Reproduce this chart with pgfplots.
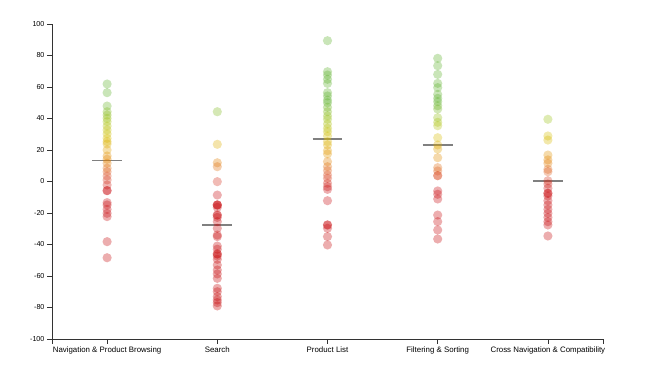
\documentclass[border=0pt]{standalone}
\usepackage{fontspec}
\setmainfont{Liberation Sans}
\usepackage{pgfplots}
\pgfplotsset{compat=1.18}
\begin{document}
\begin{tikzpicture}
\path[use as bounding box] (-52bp,-42bp) rectangle (616bp,339bp);
\begin{axis}[
  at={(0,0)}, anchor=south west,
  scale only axis, width=551bp, height=315bp,
  xmin=-0.5, xmax=4.5, ymin=-100, ymax=100,
  axis x line*=bottom, axis y line*=left,
  x axis line style={-}, y axis line style={-},
  axis line style={black!80, line width=0.8bp},
  xtick={0,1,2,3,4},
  xticklabels={Navigation \& Product Browsing, Search, Product List, Filtering \& Sorting, Cross Navigation \& Compatibility},
  extra x ticks={-0.5,4.5}, extra x tick labels={},
  ytick={-100,-80,...,100},
  tick align=outside, major tick length=4.5bp,
  tick style={black!80, line width=0.8bp},
  yticklabel style={font=\fontsize{7.2}{8}\selectfont, xshift=0.5bp},
  xticklabel style={font=\fontsize{7.9}{9}\selectfont, yshift=0.5bp},
  /pgf/number format/assume math mode=true,
  colormap={score}{
    rgb255(0cm)=(195,0,0)
    rgb255(95cm)=(200,10,15)
    rgb255(104cm)=(220,80,40)
    rgb255(112cm)=(225,125,0)
    rgb255(120cm)=(225,160,0)
    rgb255(128cm)=(215,190,0)
    rgb255(138cm)=(165,195,20)
    rgb255(150cm)=(90,175,40)
    rgb255(200cm)=(90,175,40)
  },
  point meta min=-100, point meta max=100,
  clip=false,
  unbounded coords=jump,
]
\addplot[scatter, only marks, mark=*, mark size=4.6bp, point meta=y,
  scatter/use mapped color={draw opacity=0, fill=mapped color, fill opacity=0.33}]
  table[x=x, y=y] {
x y
0 61.9
0 56.4
0 47.9
0 44.3
0 42.2
0 40.1
0 38.0
0 35.2
0 32.7
0 30.2
0 27.4
0 25.3
0 23.8
0 20.0
0 16.2
0 14.1
0 11.6
0 8.4
0 6.2
0 3.5
0 1.0
0 -2.2
0 -5.8
0 -5.8
0 -13.4
0 -14.9
0 -17.7
0 -20.2
0 -22.3
0 -38.2
0 -48.4
1 44.3
1 23.6
1 11.9
1 9.4
1 -0.1
1 -8.6
1 -14.9
1 -14.9
1 -14.9
1 -16.4
1 -21.3
1 -21.3
1 -22.8
1 -25.5
1 -29.7
1 -34.0
1 -35.0
1 -41.0
1 -43.0
1 -46.0
1 -46.0
1 -47.3
1 -49.4
1 -53.0
1 -56.2
1 -58.7
1 -61.5
1 -67.8
1 -70.0
1 -73.1
1 -75.2
1 -76.9
1 -79.0
2 89.4
2 69.7
2 67.6
2 64.9
2 62.3
2 56.4
2 54.3
2 51.7
2 50.0
2 47.1
2 44.3
2 41.6
2 39.5
2 36.5
2 33.8
2 31.6
2 28.9
2 25.3
2 23.2
2 19.6
2 17.5
2 12.6
2 9.4
2 6.9
2 4.1
2 2.0
2 -1.1
2 -3.3
2 -5.0
2 -12.2
2 -27.6
2 -27.6
2 -29.7
2 -35.0
2 -40.3
3 78.2
3 73.5
3 68.0
3 62.3
3 59.6
3 55.3
3 52.8
3 50.7
3 48.1
3 46.0
3 40.5
3 37.6
3 35.4
3 27.8
3 23.2
3 20.6
3 15.1
3 8.8
3 6.7
3 3.7
3 3.7
3 -6.0
3 -8.1
3 -11.1
3 -21.3
3 -25.5
3 -30.8
3 -36.5
4 39.5
4 28.9
4 26.3
4 16.8
4 13.7
4 11.6
4 7.7
4 6.2
4 0.5
4 -1.6
4 -4.3
4 -7.5
4 -7.5
4 -9.2
4 -12.2
4 -14.9
4 -17.7
4 -20.2
4 -22.8
4 -25.5
4 -27.6
4 -34.6
};
\addplot[draw=black!50, line width=1.6bp, mark=none]
  coordinates {(-0.136,13.4) (0.136,13.4) (nan,nan)
               (0.864,-27.8) (1.136,-27.8) (nan,nan)
               (1.864,26.8) (2.136,26.8) (nan,nan)
               (2.864,23.2) (3.136,23.2) (nan,nan)
               (3.864,0.5) (4.136,0.5)};
\end{axis}
\end{tikzpicture}
\end{document}
